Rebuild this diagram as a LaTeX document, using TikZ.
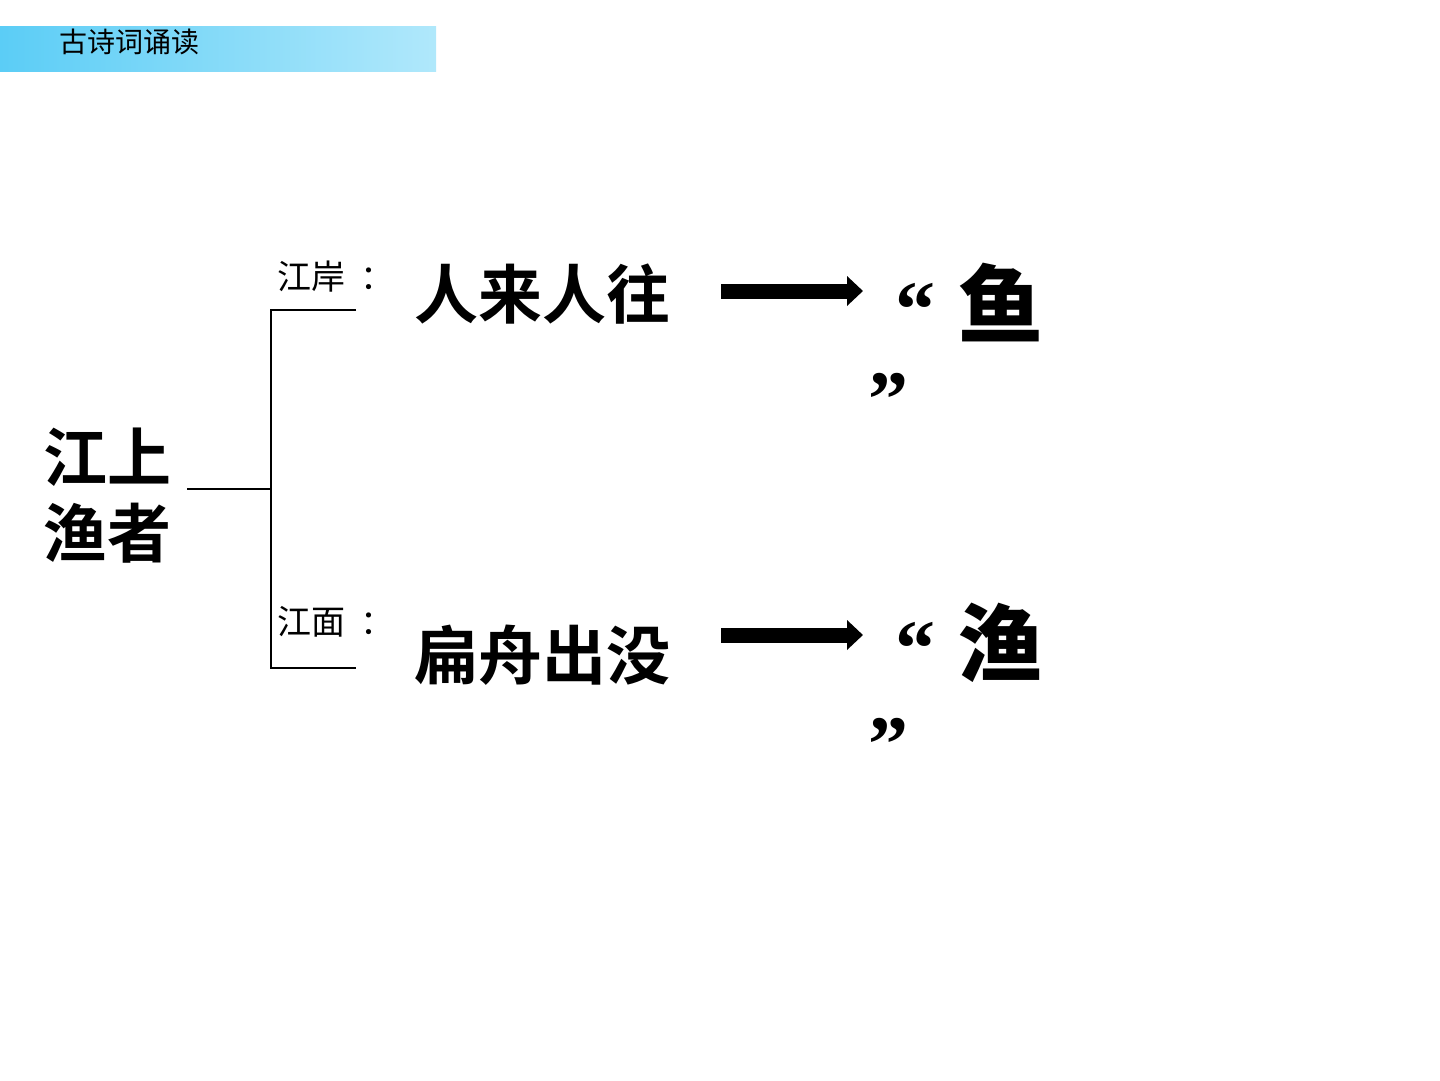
\documentclass[tikz,border=0pt]{standalone}
\usepackage{fontspec}
\usepackage{xcolor}
\usetikzlibrary{arrows.meta, positioning}
\newfontfamily\cjksans{Noto Sans CJK SC}
\newfontfamily\cjkbold{Noto Sans CJK SC Bold}
\newfontfamily\quotefont{Liberation Serif}
\definecolor{bannerLeft}{HTML}{5BCDF6}
\definecolor{bannerRight}{HTML}{B0E8FB}
\definecolor{inkColor}{HTML}{000000}

\begin{document}
\begin{tikzpicture}[
        x=1pt, y=-1pt,
        bigword/.style={font=\cjkbold\fontsize{64}{76}\selectfont, inner sep=0pt, anchor=base west, align=left, text=inkColor},
        sidelabel/.style={font=\cjksans\fontsize{34}{40}\selectfont, inner sep=0pt, anchor=base west, text=inkColor},
        quoteword/.style={font=\fontsize{80}{94}\selectfont, inner sep=0pt, anchor=base west, text=inkColor},
        bracket/.style={draw=inkColor, line width=1.3pt},
        fatarrow/.style={draw=inkColor, line width=15pt, -{Triangle[length=16pt, width=29pt]}}
    ]
        \useasboundingbox (0,0) rectangle (1440,1080);

        % Title banner
        \shade[left color=bannerLeft, right color=bannerRight] (0,26) rectangle (436,71);
        \node[font=\cjksans\fontsize{28}{30}\selectfont, inner sep=0pt, anchor=base west] (title) at (59,52) {古诗词诵读};

        % Root and bracket
        \node[bigword] (fisher) at (43,557) {江上\\渔者};
        \coordinate (stub) at (187,489);
        \coordinate (fork) at (271,489);
        \coordinate (shoreEnd) at (356,310);
        \coordinate (surfaceEnd) at (356,668);
        \draw[bracket] (stub) -- (fork);
        \draw[bracket] (shoreEnd) -| (fork) |- (surfaceEnd);

        % Branch labels
        \node[sidelabel] (shore) at (277,289) {江岸\kern15pt：};
        \node[sidelabel] (surface) at (277,634) {江面\kern15pt：};

        % Scenes
        \node[bigword] (busy) at (414,318) {人来人往};
        \node[bigword] (boats) at (414,679) {扁舟出没};

        % Results
        \node[quoteword] (fish) at (895,336) {\quotefont\bfseries “ \kern3pt\cjkbold\fontsize{85}{94}\selectfont 鱼};
        \node[quoteword] (fishClose) at (868,426) {\quotefont\bfseries ”};
        \node[quoteword] (angler) at (895,675) {\quotefont\bfseries “ \kern3pt\cjkbold\fontsize{85}{94}\selectfont 渔};
        \node[quoteword] (anglerClose) at (868,771) {\quotefont\bfseries ”};

        % Arrows
        \coordinate (busyTail) at (721,291);
        \coordinate (busyTip) at (863,291);
        \coordinate (boatsTail) at (721,635);
        \coordinate (boatsTip) at (863,635);
        \draw[fatarrow] (busyTail) -- (busyTip);
        \draw[fatarrow] (boatsTail) -- (boatsTip);
    \end{tikzpicture}
\end{document}
